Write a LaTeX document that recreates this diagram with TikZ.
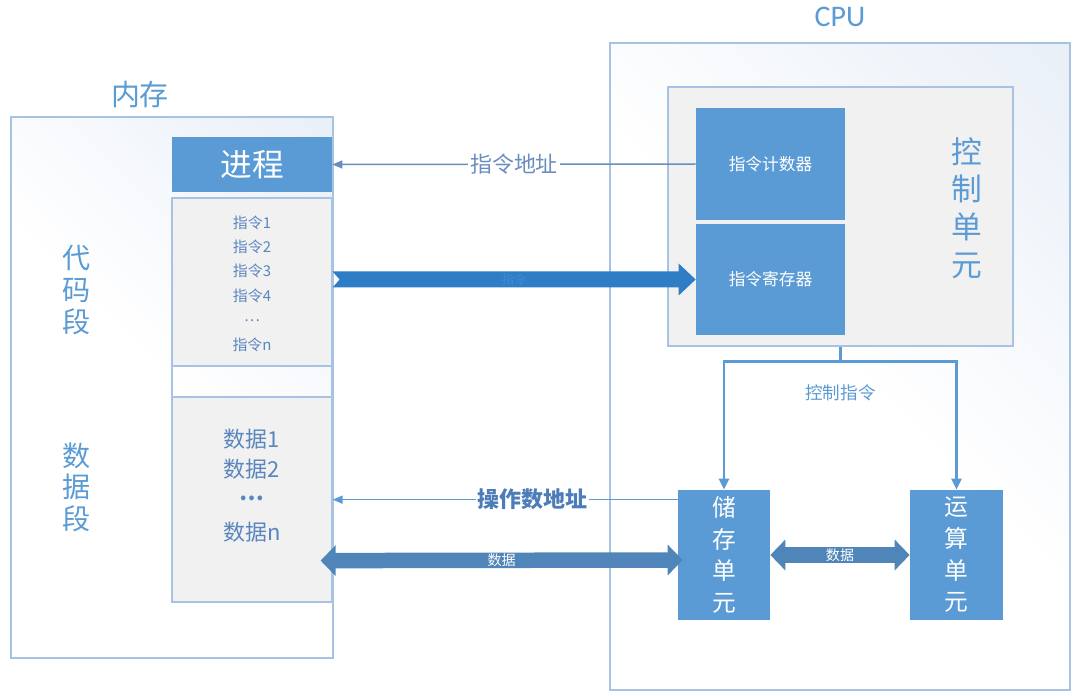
\documentclass[tikz,border=0pt]{standalone}
\usepackage{fontspec}
\setmainfont{Noto Sans CJK SC}
\newfontfamily\latinfont{Carlito}
\usetikzlibrary{arrows.meta,calc}

\definecolor{cellblue}{HTML}{5B9BD5}
\definecolor{cellgray}{HTML}{F1F1F1}
\definecolor{edgeblue}{HTML}{A6C3E3}
\definecolor{shadeblue}{HTML}{E0E9F5}
\definecolor{itemblue}{HTML}{5A86BF}
\definecolor{addrblue}{HTML}{6A8DBF}
\definecolor{opblue}{HTML}{4D7DB8}
\definecolor{insblue}{HTML}{2E7DC5}
\definecolor{instext}{HTML}{3C8BD8}
\definecolor{busblue}{HTML}{4F85B8}

\pgfdeclareverticalshading{cornerglow}{100bp}{color(0bp)=(white); color(50bp)=(white); color(100bp)=(shadeblue)}

\newcommand{\middots}{\raisebox{0.3em}{…}}

\begin{document}
\begin{tikzpicture}[x=0.02cm,y=-0.02cm,
	outer node/.style={draw=edgeblue,line width=0.025cm,shade,shading=cornerglow,shading angle=-45},
	blue node/.style={fill=cellblue,text=white,inner sep=0pt,align=center},
	gray node/.style={draw=edgeblue,fill=cellgray,line width=0.025cm,inner sep=0pt},
	title text/.style={text=cellblue,align=center},
	thin arrow/.style={draw=addrblue,line width=0.03cm,-{Triangle[length=0.2cm,width=0.16cm]}},
	ctrl line/.style={draw=cellblue,line width=0.05cm,-{Triangle[length=0.22cm,width=0.2cm]}},
	fat arrow/.style={draw=busblue,line width=0.31cm,{Triangle[length=0.3cm,width=0.6cm]}-{Triangle[length=0.3cm,width=0.6cm]}}]
	\useasboundingbox (0,0) rectangle (1080,696);
	% memory side
	\node[outer node,minimum width=6.44cm,minimum height=10.82cm] (mem) at (172,387.5) {};
	\node[title text,font=\fontsize{16.5}{20}\selectfont] (memtitle) at (140,95) {内存};
	\node[blue node,minimum width=3.2cm,minimum height=1.1cm,font=\fontsize{18}{22}\selectfont] (proc) at (252,164.5) {进程};
	\node[gray node,minimum width=3.2cm,minimum height=3.36cm] (code) at (252,282) {};
	\node[gray node,fill=none,minimum width=3.2cm,minimum height=0.62cm] (gap) at (252,381.5) {};
	\node[gray node,minimum width=3.2cm,minimum height=4.1cm] (data) at (252,499.5) {};
	\node[text=itemblue,align=center,font=\fontsize{8.5}{13.9}\selectfont] (inslist) at (252,283.5) {指令1\\指令2\\指令3\\指令4\\\middots\\指令n};
	\node[text=itemblue,align=center,font=\fontsize{12.5}{17}\selectfont] (datalist) at (252,486) {数据1\\数据2\\\textbf{\middots}\\[2pt]数据n};
	\node[title text,font=\fontsize{16}{18}\selectfont] (codeseg) at (77,290) {代\\码\\段};
	\node[title text,font=\fontsize{16}{18}\selectfont] (dataseg) at (77,487) {数\\据\\段};
	% cpu side
	\node[outer node,minimum width=9.2cm,minimum height=12.94cm] (cpu) at (840,366.5) {};
	\node[title text,font=\latinfont\fontsize{17}{20}\selectfont] (cputitle) at (840,17) {CPU};
	\node[gray node,minimum width=6.9cm,minimum height=5.18cm] (ctrl) at (840.5,216.5) {};
	\node[blue node,minimum width=2.98cm,minimum height=2.24cm,font=\fontsize{9.5}{12}\selectfont] (pc) at (770.5,164) {指令计数器};
	\node[blue node,minimum width=2.98cm,minimum height=2.22cm,font=\fontsize{9.5}{12}\selectfont] (ir) at (770.5,279.5) {指令寄存器};
	\node[title text,font=\fontsize{17.5}{21.5}\selectfont] (ctrltitle) at (967,208) {控\\制\\单\\元};
	\node[blue node,minimum width=1.84cm,minimum height=2.6cm,font=\fontsize{13.5}{18}\selectfont] (store) at (724,555) {储\\存\\单\\元};
	\node[blue node,minimum width=1.86cm,minimum height=2.6cm,font=\fontsize{13.5}{18}\selectfont] (alu) at (956.5,555) {运\\算\\单\\元};
	% addresses
	\draw[thin arrow] (pc.west) -- node[fill=white,text=addrblue,font=\fontsize{12.5}{15}\selectfont,inner sep=1pt] {指令地址} (proc.east);
	\coordinate (opaddr) at ($(store.north west)+(0,10)$);
	\draw[thin arrow,draw=cellblue] (opaddr) -- node[pos=0.42,fill=white,text=opblue,font=\bfseries\fontsize{12.5}{15}\selectfont,inner sep=1pt] {操作数地址} (data.east |- opaddr);
	% instruction fetch
	\coordinate (insL) at (code.east |- ir.west);
	\fill[insblue] ($(insL)+(7,0)$) -- ++(-7,-8) -- ($(ir.west)+(-17,-8)$) -- ($(ir.west)+(-17,-16)$) -- (ir.west)
		-- ($(ir.west)+(-17,16)$) -- ($(ir.west)+(-17,8)$) -- ($(insL)+(0,8)$) -- cycle;
	\node[text=instext,font=\fontsize{7}{9}\selectfont] (inslabel) at ($(insL)!0.5!(ir.west)$) {指令};
	% control signals
	\coordinate (split) at ($(ctrl.south)+(0,15)$);
	\draw[draw=cellblue,line width=0.05cm] (ctrl.south) -- (split);
	\draw[ctrl line] (split) -| (store.north);
	\draw[ctrl line] (split) -| (alu.north);
	\node[text=cellblue,font=\fontsize{10}{12}\selectfont] (ctrllabel) at ($(split)+(0,31)$) {控制指令};
	% data buses
	\draw[fat arrow] (store.east) -- node[text=white,font=\fontsize{8}{10}\selectfont] {数据} (alu.west);
	\coordinate (busL) at ($(data.south east)+(-12,-42)$);
	\coordinate (busR) at ($(store.west)+(5,5)$);
	\draw[fat arrow] (busL) -- node[text=white,font=\fontsize{8}{10}\selectfont] {数据} (busR);
\end{tikzpicture}
\end{document}
